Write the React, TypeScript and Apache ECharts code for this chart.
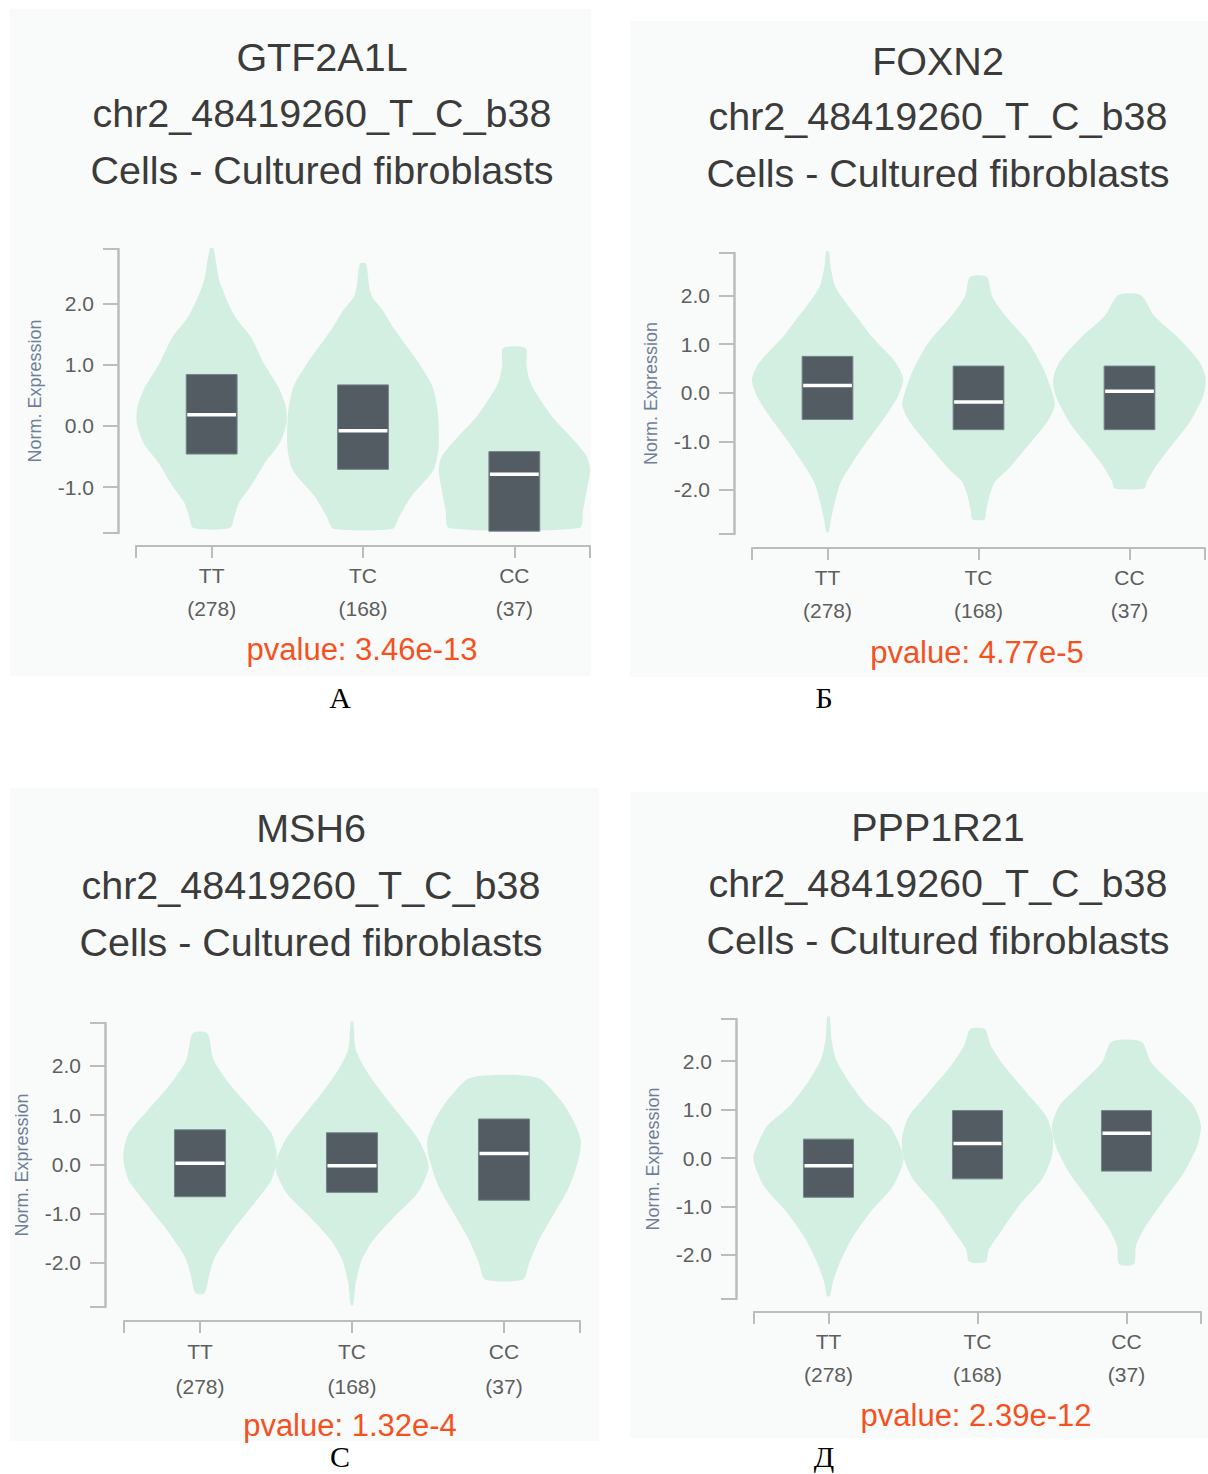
import React, { useEffect, useRef } from "react";
import * as echarts from "echarts";

// ---------- data ----------
const genotypes = ["TT", "TC", "CC"];
const sampleCounts = [278, 168, 37];
const genes = ["GTF2A1L", "FOXN2", "MSH6", "PPP1R21"];
const variantId = "chr2_48419260_T_C_b38";
const tissue = "Cells - Cultured fibroblasts";
const pvalues = ["3.46e-13", "4.77e-5", "1.32e-4", "2.39e-12"];
const panelLetters = ["А", "Б", "С", "Д"];

const yRanges = [
  [-1.75, 2.89],
  [-2.91, 2.88],
  [-2.9, 2.87],
  [-2.91, 2.87],
];
const yTickLabels = [
  [-1, 0, 1, 2],
  [-2, -1, 0, 1, 2],
  [-2, -1, 0, 1, 2],
  [-2, -1, 0, 1, 2],
];

// boxes: [q1, median, q3] per genotype
const boxesA = [[-0.46, 0.18, 0.84], [-0.71, -0.08, 0.67], [-1.72, -0.79, -0.42]];
const boxesB = [[-0.55, 0.15, 0.75], [-0.76, -0.19, 0.55], [-0.76, 0.03, 0.55]];
const boxesC = [[-0.66, 0.02, 0.7], [-0.57, -0.03, 0.64], [-0.73, 0.22, 0.92]];
const boxesD = [[-0.81, -0.16, 0.39], [-0.43, 0.3, 0.98], [-0.27, 0.51, 0.98]];

// violin outlines: [expression, half width as share of category band]
const violinA_TT = [[2.9, 0.012], [2.38, 0.05], [2.0, 0.11], [1.73, 0.17], [1.45, 0.26], [1.0, 0.35], [0.64, 0.44], [0.32, 0.49], [0.05, 0.495], [-0.28, 0.45], [-0.61, 0.35], [-0.98, 0.26], [-1.26, 0.18], [-1.48, 0.15], [-1.67, 0.12]];
const violinA_TC = [[2.65, 0.02], [2.3, 0.04], [2.11, 0.06], [1.89, 0.13], [1.57, 0.21], [1.02, 0.37], [0.64, 0.46], [0.21, 0.495], [-0.34, 0.5], [-0.72, 0.465], [-1.15, 0.32], [-1.48, 0.24], [-1.68, 0.195]];
const violinA_CC = [[1.27, 0.075], [1.0, 0.08], [0.75, 0.1], [0.59, 0.13], [0.15, 0.25], [-0.17, 0.37], [-0.5, 0.48], [-0.72, 0.5], [-1.04, 0.48], [-1.37, 0.455], [-1.67, 0.43]];

const violinB_TT = [[2.91, 0.01], [2.6, 0.02], [2.2, 0.05], [1.95, 0.1], [1.58, 0.19], [1.17, 0.29], [0.63, 0.45], [0.29, 0.5], [-0.05, 0.47], [-0.46, 0.39], [-1.01, 0.26], [-1.42, 0.17], [-1.83, 0.09], [-2.24, 0.05], [-2.58, 0.025], [-2.87, 0.008]];
const violinB_TC = [[2.39, 0.055], [1.99, 0.09], [1.58, 0.18], [1.04, 0.33], [0.49, 0.43], [0.08, 0.48], [-0.26, 0.505], [-0.6, 0.455], [-1.08, 0.33], [-1.56, 0.2], [-1.83, 0.11], [-2.1, 0.075], [-2.44, 0.05], [-2.61, 0.04]];
const violinB_CC = [[2.01, 0.075], [1.58, 0.165], [1.11, 0.33], [0.63, 0.465], [0.29, 0.505], [-0.05, 0.49], [-0.6, 0.4], [-1.08, 0.28], [-1.49, 0.18], [-1.83, 0.115], [-1.97, 0.1]];

const violinC_TT = [[2.66, 0.048], [2.12, 0.09], [1.65, 0.19], [1.11, 0.34], [0.63, 0.47], [0.16, 0.505], [-0.32, 0.47], [-0.86, 0.34], [-1.41, 0.2], [-1.88, 0.1], [-2.22, 0.063], [-2.62, 0.03]];
const violinC_TC = [[2.9, 0.008], [2.33, 0.025], [1.92, 0.09], [1.44, 0.2], [0.9, 0.34], [0.49, 0.44], [-0.05, 0.505], [-0.59, 0.43], [-1.06, 0.28], [-1.54, 0.14], [-1.95, 0.063], [-2.42, 0.025], [-2.86, 0.008]];
const violinC_CC = [[1.76, 0.22], [1.31, 0.37], [0.9, 0.455], [0.49, 0.505], [0.09, 0.49], [-0.45, 0.43], [-1.0, 0.33], [-1.54, 0.23], [-2.01, 0.165], [-2.34, 0.125]];

const violinD_TT = [[2.92, 0.008], [2.45, 0.02], [2.04, 0.05], [1.56, 0.14], [1.08, 0.26], [0.67, 0.41], [0.32, 0.47], [-0.02, 0.505], [-0.57, 0.435], [-1.12, 0.28], [-1.67, 0.155], [-2.15, 0.077], [-2.56, 0.03], [-2.85, 0.01]];
const violinD_TC = [[2.66, 0.05], [2.32, 0.09], [1.9, 0.18], [1.35, 0.33], [0.87, 0.46], [0.46, 0.505], [0.05, 0.5], [-0.43, 0.435], [-0.98, 0.28], [-1.53, 0.155], [-1.88, 0.077], [-2.14, 0.056]];
const violinD_CC = [[2.4, 0.1], [1.97, 0.165], [1.49, 0.32], [1.08, 0.45], [0.67, 0.5], [0.25, 0.475], [-0.3, 0.385], [-0.85, 0.255], [-1.4, 0.13], [-1.81, 0.064], [-2.19, 0.05]];

const panelBoxes = [boxesA, boxesB, boxesC, boxesD];
const panelViolins = [
  [violinA_TT, violinA_TC, violinA_CC],
  [violinB_TT, violinB_TC, violinB_CC],
  [violinC_TT, violinC_TC, violinC_CC],
  [violinD_TT, violinD_TC, violinD_CC],
];

// ---------- layout & style ----------
const layouts = [
  { bg: [10, 9, 581, 667], grid: [136, 249, 454, 284], yOff: 18, xOff: 13, titleX: 322, titleY: [57, 113, 170], pv: [362, 649], letter: [340, 697], lh: 33 },
  { bg: [630, 21, 578, 656], grid: [752, 253, 453, 281], yOff: 18, xOff: 14, titleX: 938, titleY: [61, 116, 173], pv: [977, 652], letter: [824, 697], lh: 33 },
  { bg: [10, 788, 589, 653], grid: [124, 1023, 456, 284], yOff: 19, xOff: 14, titleX: 311, titleY: [828, 885, 942], pv: [350, 1425], letter: [340, 1456], lh: 35 },
  { bg: [630, 792, 578, 646], grid: [754, 1019, 447, 280], yOff: 18, xOff: 13, titleX: 938, titleY: [827, 883, 940], pv: [976, 1415], letter: [824, 1456], lh: 33 },
];

const SANS = '"Liberation Sans", Arial, Helvetica, sans-serif';
const SERIF = '"Liberation Serif", "Times New Roman", serif';
const VIOLIN_FILL = "#d3efe2";
const BOX_FILL = "#525c62";
const BOX_STROKE = "#76838a";
const BOX_HALF = 0.168;
const AXIS_COLOR = "#bcbcbc";
const LABEL_COLOR = "#5e5e5e";
const TITLE_COLOR = "#3b3b3b";
const NAME_COLOR = "#6e7e9a";
const PVAL_COLOR = "#f4511e";

function buildOption() {
  const grids: any[] = [];
  const xAxes: any[] = [];
  const yAxes: any[] = [];
  const series: any[] = [];
  const graphics: any[] = [];

  layouts.forEach((L, p) => {
    const [gl, gt, gw, gh] = L.grid;
    grids.push({ left: gl, top: gt, width: gw, height: gh, containLabel: false });
    const [ymin, ymax] = yRanges[p];

    xAxes.push({
      type: "value",
      gridIndex: p,
      position: "bottom",
      min: -0.5,
      max: 2.5,
      offset: L.xOff,
      splitLine: { show: false },
      axisLine: { show: true, onZero: false, lineStyle: { color: AXIS_COLOR, width: 2 } },
      axisTick: {
        show: true,
        customValues: [-0.5, 0, 1, 2, 2.5],
        length: 12,
        lineStyle: { color: AXIS_COLOR, width: 2 },
      },
      axisLabel: {
        show: true,
        customValues: [0, 1, 2],
        margin: 13,
        fontSize: 21,
        lineHeight: L.lh,
        color: LABEL_COLOR,
        fontFamily: SANS,
        formatter: (v: number) => {
          const i = Math.round(v);
          return genotypes[i] + "\n(" + sampleCounts[i] + ")";
        },
      },
    });

    yAxes.push({
      type: "value",
      gridIndex: p,
      position: "left",
      min: ymin,
      max: ymax,
      offset: L.yOff,
      splitLine: { show: false },
      axisLine: { show: true, onZero: false, lineStyle: { color: AXIS_COLOR, width: 2.5 } },
      axisTick: {
        show: true,
        customValues: [ymin, ...yTickLabels[p], ymax],
        length: 15,
        lineStyle: { color: AXIS_COLOR, width: 2 },
      },
      axisLabel: {
        show: true,
        customValues: yTickLabels[p],
        margin: 24,
        fontSize: 21,
        color: LABEL_COLOR,
        fontFamily: SANS,
        formatter: (v: number) => v.toFixed(1),
      },
      name: "Norm. Expression",
      nameLocation: "middle",
      nameGap: 74,
      nameTextStyle: { fontSize: 18, color: NAME_COLOR, fontFamily: SANS },
    });

    const violins = panelViolins[p];
    series.push({
      type: "custom",
      xAxisIndex: p,
      yAxisIndex: p,
      silent: true,
      z: 2,
      data: genotypes.map((_, i) => [i, 0]),
      encode: { x: 0, y: 1 },
      renderItem: (params: any, api: any) => {
        const idx = api.value(0);
        const outline = violins[idx];
        const left = outline.map(([v, w]: number[]) => api.coord([idx - w, v]));
        const right = outline.map(([v, w]: number[]) => api.coord([idx + w, v])).reverse();
        return {
          type: "polygon",
          shape: { points: left.concat(right), smooth: 0.25 },
          style: { fill: VIOLIN_FILL },
        };
      },
    });

    const boxes = panelBoxes[p];
    series.push({
      type: "custom",
      xAxisIndex: p,
      yAxisIndex: p,
      silent: true,
      z: 3,
      data: boxes.map((b, i) => [i, b[0], b[1], b[2]]),
      encode: { x: 0, y: [1, 2, 3] },
      renderItem: (params: any, api: any) => {
        const x = api.value(0);
        const lo = api.coord([x - BOX_HALF, api.value(1)]);
        const hi = api.coord([x + BOX_HALF, api.value(3)]);
        const md = api.coord([x, api.value(2)]);
        const w = hi[0] - lo[0];
        return {
          type: "group",
          children: [
            {
              type: "rect",
              shape: { x: lo[0], y: hi[1], width: w, height: lo[1] - hi[1] },
              style: { fill: BOX_FILL, stroke: BOX_STROKE, lineWidth: 1 },
            },
            {
              type: "rect",
              shape: { x: lo[0] + 1, y: md[1] - 1.75, width: w - 2, height: 3.5 },
              style: { fill: "#ffffff" },
            },
          ],
        };
      },
    });

    const [bx, by, bw, bh] = L.bg;
    graphics.push({
      type: "rect",
      z: -100,
      silent: true,
      shape: { x: bx, y: by, width: bw, height: bh },
      style: { fill: "#f9fbfa" },
    });
    const titleLines = [genes[p], variantId, tissue];
    titleLines.forEach((t, k) => {
      graphics.push({
        type: "text",
        x: L.titleX,
        y: L.titleY[k],
        style: {
          text: t,
          fontSize: 39.5,
          fontFamily: SANS,
          fill: TITLE_COLOR,
          align: "center",
          verticalAlign: "middle",
        },
      });
    });
    graphics.push({
      type: "text",
      x: L.pv[0],
      y: L.pv[1],
      style: {
        text: "pvalue: " + pvalues[p],
        fontSize: 31,
        fontFamily: SANS,
        fill: PVAL_COLOR,
        align: "center",
        verticalAlign: "middle",
      },
    });
    graphics.push({
      type: "text",
      x: L.letter[0],
      y: L.letter[1],
      style: {
        text: panelLetters[p],
        fontSize: 30,
        fontFamily: SERIF,
        fill: "#000000",
        align: "center",
        verticalAlign: "middle",
      },
    });
  });

  return {
    animation: false,
    backgroundColor: "#ffffff",
    grid: grids,
    xAxis: xAxes,
    yAxis: yAxes,
    series,
    graphic: { elements: graphics },
  };
}

export default function App() {
  const ref = useRef<HTMLDivElement>(null);
  useEffect(() => {
    if (!ref.current) return;
    const chart = echarts.init(ref.current, undefined, { renderer: "svg" });
    chart.setOption(buildOption() as any);
    return () => chart.dispose();
  }, []);
  return (
    <div
      ref={ref}
      style={{ position: "absolute", left: 0, top: 0, width: 1208, height: 1474 }}
    />
  );
}
